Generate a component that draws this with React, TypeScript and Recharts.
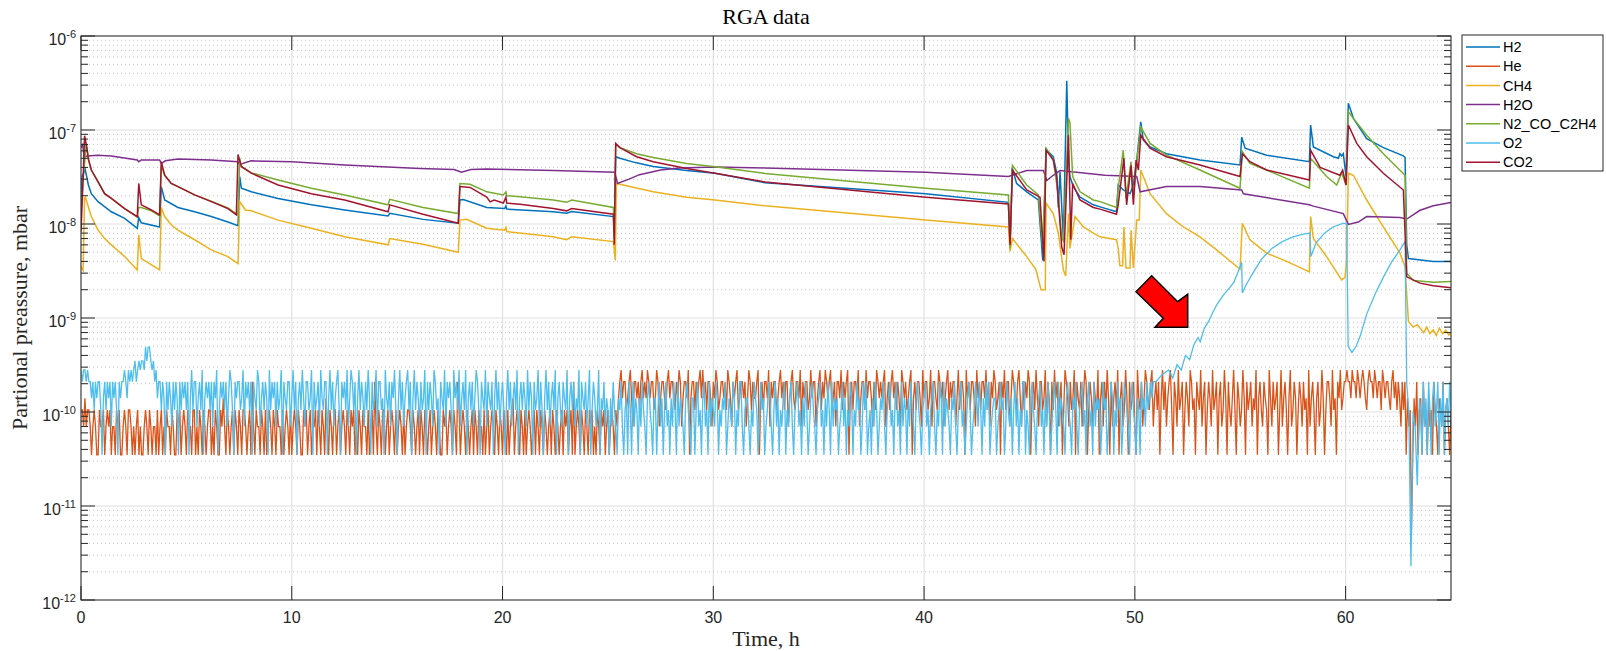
import React from 'react';
import { LineChart, Line, XAxis, YAxis, CartesianGrid, ReferenceLine } from 'recharts';

// ---------- axes ----------
const X_TICKS = [0, 10, 20, 30, 40, 50, 60];
const X_DOMAIN: [number, number] = [0, 65];
const Y_TICKS = [1e-12, 1e-11, 1e-10, 1e-9, 1e-8, 1e-7, 1e-6];
const Y_DOMAIN: [number, number] = [1e-12, 1e-6];
const MINOR_MULT = [2, 3, 4, 5, 6, 7, 8, 9];

// ---------- series (time h, partial pressure mbar) ----------
const H2: [number, number][] = [
  [0, 1.5e-8], [0.05, 3.2e-8], [0.2, 3.8e-8], [0.35, 2.6e-8], [0.49, 2.1e-8], [0.81, 1.73e-8], [1.44, 1.35e-8], [2.07, 1.15e-8],
  [2.67, 9.0e-9], [2.74, 1.17e-8], [2.86, 1.03e-8], [3.73, 9.3e-9], [3.81, 2.5e-8], [3.97, 1.8e-8], [4.6, 1.5e-8],
  [5.39, 1.35e-8], [6.18, 1.2e-8], [6.97, 1.05e-8], [7.45, 9.6e-9], [7.53, 3.2e-8], [7.61, 2.4e-8], [8.08, 2.2e-8],
  [9.35, 1.87e-8], [10.93, 1.6e-8], [12.51, 1.41e-8], [14.57, 1.22e-8], [14.65, 1.3e-8], [16.23, 1.12e-8],
  [17.9, 1.02e-8], [17.98, 1.8e-8], [18.14, 1.82e-8], [19.25, 1.5e-8], [20.1, 1.46e-8], [20.16, 1.56e-8],
  [20.2, 1.44e-8], [22.41, 1.35e-8], [23.04, 1.3e-8], [23.28, 1.36e-8], [25.26, 1.2e-8], [25.3, 8e-9],
  [25.37, 5.2e-8], [25.57, 5.0e-8], [26.3, 4.5e-8], [27.15, 4.1e-8], [28.73, 3.7e-8], [30.08, 3.47e-8], [32.45, 2.75e-8],
  [40.08, 2.1e-8], [44.0, 1.7e-8], [44.08, 6e-9], [44.19, 3.9e-8], [44.39, 2.7e-8], [44.87, 2.2e-8],
  [45.42, 1.8e-8], [45.63, 4.1e-9], [45.79, 6.2e-8], [46.13, 5.2e-8], [46.29, 3.5e-8], [46.37, 1.5e-8],
  [46.45, 3.6e-8], [46.61, 6.8e-9], [46.77, 3.35e-7], [46.85, 5e-8], [46.92, 3.2e-8], [47.08, 2.5e-8],
  [47.4, 1.93e-8], [48.03, 1.6e-8], [48.35, 1.52e-8], [49.13, 1.35e-8], [49.21, 2.6e-8], [49.45, 2.3e-8],
  [49.77, 2.1e-8], [49.93, 2.6e-8], [50.09, 4.8e-8], [50.28, 1.22e-7], [50.4, 7.8e-8], [50.72, 6.6e-8],
  [51.5, 5.6e-8], [53.09, 4.8e-8], [54.99, 4.25e-8], [55.07, 8.4e-8], [55.23, 6.4e-8], [56.25, 5.4e-8],
  [58.28, 4.6e-8], [58.34, 1.13e-7], [58.47, 6.6e-8], [59.42, 5.2e-8], [59.66, 5.0e-8], [59.73, 5.6e-8],
  [59.81, 5.3e-8], [59.89, 5.6e-8], [60.02, 3.2e-8], [60.13, 1.93e-7], [60.37, 1.33e-7], [61.0, 8.1e-8],
  [61.79, 6.5e-8], [62.74, 5.3e-8], [62.82, 5.1e-8], [62.9, 6e-9], [62.98, 4.3e-9], [64.16, 4.0e-9], [65, 4.0e-9],
];

const CH4: [number, number][] = [
  [0, 3.5e-9], [0.1, 3.2e-9], [0.17, 1.9e-8], [0.21, 1.93e-8], [0.49, 1.2e-8], [0.81, 8.6e-9], [1.12, 7e-9],
  [1.44, 6e-9], [2.07, 4.5e-9], [2.67, 3.24e-9], [2.74, 7.7e-9], [2.86, 4.3e-9], [3.0, 4.1e-9], [3.73, 3.24e-9],
  [3.81, 1.5e-8], [3.97, 1.2e-8], [4.28, 9.8e-9], [4.6, 8.6e-9], [5.39, 6.8e-9], [6.18, 5.3e-9], [6.97, 4.5e-9],
  [7.45, 3.8e-9], [7.53, 1.73e-8], [7.8, 1.41e-8], [8.08, 1.38e-8], [9.35, 1.1e-8], [10.93, 9e-9], [12.51, 7.3e-9],
  [14.57, 6e-9], [14.65, 7e-9], [16.23, 6.1e-9], [17.9, 5.0e-9], [17.98, 1.1e-8], [18.3, 1.12e-8], [19.25, 9e-9],
  [20.1, 8.6e-9], [20.16, 9.2e-9], [20.2, 8.3e-9], [22.41, 7.3e-9], [23.04, 6.8e-9], [23.28, 7.3e-9],
  [25.26, 6.5e-9], [25.35, 4.1e-9], [25.4, 2.7e-8], [27.15, 2.2e-8], [28.73, 1.93e-8], [30.08, 1.8e-8],
  [32.45, 1.56e-8], [40.08, 1.1e-8], [44.0, 9.3e-9], [44.08, 5.1e-9], [44.19, 7e-9], [44.87, 4.5e-9],
  [45.3, 3.3e-9], [45.55, 2e-9], [45.75, 2e-9], [45.79, 1.67e-8], [46.13, 1.29e-8], [46.37, 8e-9],
  [46.61, 3.24e-9], [46.72, 2.8e-9], [46.85, 1.29e-8], [46.92, 5.5e-9], [47.16, 1.2e-8], [47.56, 9.3e-9],
  [48.03, 8e-9], [48.35, 7.3e-9], [49.13, 6.8e-9], [49.21, 5.5e-9], [49.29, 3.6e-9], [49.42, 3.6e-9],
  [49.48, 9.3e-9], [49.58, 3.4e-9], [49.77, 3.4e-9], [49.82, 8.6e-9], [49.93, 3.4e-9], [50.09, 1.1e-8],
  [50.21, 1.1e-8], [50.28, 3.75e-8], [50.72, 2.1e-8], [51.5, 1.29e-8], [52.3, 9.3e-9], [53.09, 7.3e-9],
  [53.88, 5.3e-9], [54.99, 3.3e-9], [55.1, 1.02e-8], [55.46, 6.8e-9], [56.25, 4.9e-9], [57.2, 4e-9],
  [58.28, 3.1e-9], [58.34, 1.2e-8], [58.47, 7e-9], [59.1, 4.5e-9], [59.81, 2.54e-9], [59.97, 2.7e-9],
  [60.05, 4e-9], [60.13, 3.47e-8], [60.37, 3.3e-8], [61.0, 1.8e-8], [61.79, 9.3e-9], [62.58, 4.9e-9],
  [62.82, 3.5e-9], [62.98, 9.2e-10], [63.2, 8e-10], [63.4, 8.5e-10], [63.53, 7.8e-10], [63.7, 7e-10],
  [63.85, 8e-10], [64.0, 6.8e-10], [64.16, 7.5e-10], [64.3, 6.5e-10], [64.45, 7.8e-10], [64.6, 6.8e-10],
  [64.75, 7.4e-10], [64.9, 6.6e-10], [65, 7e-10],
];

const H2O: [number, number][] = [
  [0, 6.5e-8], [0.08, 7e-8], [0.15, 5.2e-8], [0.3, 5.3e-8], [0.8, 5.4e-8], [1.44, 5.3e-8], [2.67, 4.8e-8],
  [2.74, 4.6e-8], [2.86, 4.8e-8], [3.73, 4.8e-8], [3.81, 4.4e-8], [4.0, 4.7e-8], [4.6, 4.9e-8], [6.18, 4.8e-8],
  [7.45, 4.6e-8], [7.53, 4.3e-8], [8.08, 4.7e-8], [10.0, 4.6e-8], [12.51, 4.25e-8], [16.08, 3.9e-8],
  [17.7, 3.8e-8], [18.05, 3.55e-8], [18.5, 3.8e-8], [19.25, 3.85e-8], [22.41, 3.7e-8], [25.33, 3.55e-8],
  [25.45, 2.7e-8], [26.0, 3.0e-8], [26.5, 3.35e-8], [27.5, 3.75e-8], [28.4, 3.95e-8], [30.08, 4.05e-8],
  [32.45, 3.95e-8], [40.08, 3.55e-8], [44.0, 3.2e-8], [44.87, 3.7e-8], [45.66, 3.7e-8], [45.82, 2.9e-8],
  [46.13, 3.3e-8], [46.45, 3.7e-8], [48.58, 3.3e-8], [50.09, 3.2e-8], [50.25, 2.2e-8], [51.5, 2.5e-8],
  [53.09, 2.5e-8], [55.07, 2.3e-8], [55.15, 2.1e-8], [58.28, 1.6e-8], [58.47, 1.55e-8], [59.89, 1.29e-8],
  [60.13, 9.9e-9], [60.6, 1.05e-8], [61.0, 1.2e-8], [62.58, 1.17e-8], [62.9, 1.13e-8], [63.53, 1.4e-8],
  [64.16, 1.56e-8], [65, 1.69e-8],
];

const N2_CO_C2H4: [number, number][] = [
  [0, 1.3e-8], [0.08, 2.6e-8], [0.25, 7.2e-8], [0.36, 4.8e-8], [0.49, 3.75e-8], [0.81, 2.8e-8], [1.12, 2.1e-8], [1.44, 1.87e-8],
  [2.07, 1.46e-8], [2.67, 1.18e-8], [2.74, 1.5e-8], [2.86, 1.5e-8], [3.34, 1.38e-8], [3.73, 1.22e-8],
  [3.81, 4.2e-8], [3.97, 3.3e-8], [4.28, 2.7e-8], [4.6, 2.5e-8], [5.39, 2.04e-8], [6.18, 1.75e-8],
  [6.97, 1.48e-8], [7.45, 1.25e-8], [7.53, 5.0e-8], [7.61, 4.1e-8], [8.08, 3.5e-8], [9.35, 2.94e-8],
  [10.93, 2.4e-8], [12.51, 2.04e-8], [14.57, 1.6e-8], [14.65, 1.83e-8], [16.23, 1.5e-8], [17.9, 1.29e-8],
  [17.98, 2.7e-8], [18.46, 2.65e-8], [19.25, 2.2e-8], [20.04, 2.04e-8], [20.16, 2.2e-8], [20.2, 2.0e-8],
  [20.83, 1.95e-8], [22.41, 1.8e-8], [23.04, 1.7e-8], [23.28, 1.8e-8], [25.26, 1.5e-8], [25.3, 7e-9],
  [25.37, 7.1e-8], [25.57, 6.5e-8], [26.36, 5.6e-8], [27.15, 5.1e-8], [28.73, 4.4e-8], [30.08, 4.07e-8],
  [32.45, 3.45e-8], [40.08, 2.4e-8], [44.0, 2.04e-8], [44.08, 5.5e-9], [44.19, 4.2e-8], [44.87, 2.6e-8],
  [45.42, 2.04e-8], [45.63, 5.7e-9], [45.79, 6.4e-8], [46.13, 4.8e-8], [46.37, 2e-8], [46.53, 7e-9],
  [46.61, 6.6e-9], [46.85, 1.33e-7], [46.92, 1.2e-7], [47.05, 3.2e-8], [47.4, 2.2e-8], [48.03, 1.8e-8],
  [48.35, 1.73e-8], [49.13, 1.5e-8], [49.21, 2.4e-8], [49.45, 6.1e-8], [49.58, 1.87e-8], [49.82, 4.6e-8],
  [49.93, 1.87e-8], [50.09, 4.6e-8], [50.28, 1.08e-7], [50.72, 7.2e-8], [51.5, 5.4e-8], [53.09, 3.75e-8],
  [54.99, 2.4e-8], [55.1, 5.9e-8], [55.46, 4.4e-8], [56.25, 3.75e-8], [58.28, 2.4e-8], [58.34, 5.0e-8],
  [59.1, 3.2e-8], [59.58, 2.6e-8], [59.81, 3.5e-8], [60.02, 2.6e-8], [60.13, 1.57e-7], [60.37, 1.33e-7],
  [61.0, 8.8e-8], [61.79, 5.6e-8], [62.82, 3.3e-8], [62.9, 3.0e-9], [63.21, 2.5e-9], [64.16, 2.4e-9], [65, 2.45e-9],
];

const CO2: [number, number][] = [
  [0, 8.3e-9], [0.1, 3e-8], [0.17, 8.7e-8], [0.25, 7e-8], [0.36, 4.8e-8], [0.49, 3.75e-8], [0.81, 2.8e-8], [1.12, 2.1e-8],
  [1.44, 1.87e-8], [2.07, 1.46e-8], [2.67, 1.2e-8], [2.74, 2.7e-8], [2.86, 1.6e-8], [3.34, 1.41e-8],
  [3.73, 1.25e-8], [3.81, 4.6e-8], [3.97, 3.3e-8], [4.28, 2.7e-8], [4.6, 2.5e-8], [5.39, 2.04e-8],
  [6.18, 1.73e-8], [6.97, 1.46e-8], [7.37, 1.25e-8], [7.45, 5.5e-8], [7.61, 4.07e-8], [8.08, 3.47e-8],
  [9.35, 2.6e-8], [10.93, 2.1e-8], [12.51, 1.8e-8], [14.57, 1.35e-8], [14.65, 1.6e-8], [16.23, 1.27e-8],
  [17.9, 1.02e-8], [17.98, 2.5e-8], [18.46, 2.45e-8], [19.25, 1.93e-8], [19.41, 1.72e-8], [19.6, 1.8e-8],
  [20.04, 1.67e-8], [20.16, 1.93e-8], [20.2, 1.67e-8], [20.83, 1.62e-8], [22.41, 1.46e-8], [23.04, 1.38e-8],
  [23.28, 1.46e-8], [25.26, 1.27e-8], [25.3, 6e-9], [25.37, 7.2e-8], [25.57, 6.5e-8], [26.36, 5.2e-8],
  [27.15, 4.6e-8], [28.73, 3.9e-8], [30.08, 3.47e-8], [32.45, 2.8e-8], [40.08, 1.93e-8], [44.0, 1.63e-8],
  [44.08, 6e-9], [44.19, 3.75e-8], [44.87, 2.3e-8], [45.5, 1.93e-8], [45.69, 4e-9], [45.79, 6.1e-8],
  [46.13, 4.8e-8], [46.29, 3.2e-8], [46.53, 5.7e-9], [46.64, 4.7e-9], [46.85, 8.8e-8], [46.96, 6.8e-9],
  [47.05, 2.7e-8], [47.4, 1.8e-8], [48.03, 1.5e-8], [48.35, 1.44e-8], [49.13, 1.27e-8], [49.21, 1.6e-8],
  [49.48, 5e-8], [49.61, 1.6e-8], [49.82, 4.2e-8], [49.93, 1.6e-8], [50.06, 4.8e-8], [50.17, 3.75e-8],
  [50.28, 8.8e-8], [50.72, 6.4e-8], [51.5, 5.2e-8], [53.09, 4.25e-8], [54.99, 3.2e-8], [55.1, 5.6e-8],
  [55.46, 4.6e-8], [56.25, 3.75e-8], [58.28, 2.94e-8], [58.34, 6.1e-8], [58.79, 4.0e-8], [59.73, 3.3e-8],
  [59.86, 3.75e-8], [60.02, 2.6e-8], [60.13, 1.13e-7], [60.53, 7.2e-8], [61.0, 5.2e-8], [61.79, 3.47e-8],
  [62.74, 2.3e-8], [62.9, 2.74e-9], [63.53, 2.35e-9], [64.16, 2.2e-9], [65, 2.1e-9],
];

// noisy channels: quantised level codes sampled every NOISE_STEP hours
const NOISE_STEP = 0.0625;
const NOISE_LEVELS = [3.5e-11, 7e-11, 1.05e-10, 1.4e-10, 2.1e-10, 2.8e-10, 3.5e-10, 4.9e-10, 5.2e-12];

const HE_CODES = [
  2,2,1,3,1,2,2,1,0,1, 2,1,0,0,2,1,1,2,0,1, 2,1,2,0,1,1,0,2,1,2, 0,0,1,2,1,0,2,2,1,0,
  1,0,1,2,0,1,0,0,1,2, 1,0,2,1,0,1,1,0,2,0, 1,2,0,1,0,2,1,1,0,2, 1,0,0,2,1,2,0,1,2,1,
  0,2,1,1,0,2,2,0,1,0, 2,1,0,2,1,0,1,2,2,0, 1,0,2,1,0,0,2,1,3,1, 0,2,1,0,1,2,0,2,1,0,
  2,1,0,2,2,1,0,1,2,0, 4,1,0,2,1,1,0,2,1,0, 2,0,1,2,1,0,2,1,0,2, 1,1,0,2,0,1,2,1,0,2,
  0,1,2,1,0,2,1,0,0,2, 1,2,0,1,2,0,1,1,2,0, 2,1,0,2,1,0,3,1,0,2, 1,0,2,2,0,1,2,0,1,2,
  1,0,2,1,0,2,1,2,0,1, 0,2,1,0,2,1,1,0,2,0, 1,2,0,4,1,0,2,1,0,2, 2,0,1,2,0,1,2,1,0,2,
  0,1,2,1,0,2,0,1,2,2, 1,0,2,1,0,1,2,0,2,1, 0,2,1,0,1,2,0,1,2,1, 0,2,1,0,0,2,1,2,0,1,
  2,1,0,2,1,0,4,2,0,1, 2,1,0,2,1,0,1,2,0,2, 1,0,2,1,1,0,2,0,1,2, 0,1,2,1,0,2,1,0,2,1,
  0,2,1,0,2,0,1,2,3,0, 1,2,1,0,2,1,0,2,0,1, 2,1,0,1,2,0,2,1,0,2, 1,0,2,1,0,1,2,0,2,1,
  0,2,1,0,1,2,0,2,1,2, 0,1,2,0,4,0,1,2,1,0, 2,1,0,2,1,0,2,1,2,0, 1,0,2,1,0,2,1,2,0,1,
  2,0,1,2,1,0,2,1,
  3,4,5,3,4,4,2,3,4,5, 3,1,4,4,3,4,2,4,5,3, 4,3,5,4,3,4,4,2,3,5, 4,1,3,4,4,3,2,4,5,3,
  4,4,3,2,4,3,5,4,1,3, 4,4,3,5,0,3,4,4,2,4, 3,4,5,3,5,3,4,2,4,4, 3,1,4,3,5,4,2,3,4,4,
  3,4,2,5,4,3,1,4,3,4, 5,2,3,4,4,3,4,1,3,5, 4,2,4,3,3,4,5,0,3,4, 2,4,4,3,5,1,4,3,4,4,
  2,3,4,5,3,4,2,4,4,1, 3,4,5,3,2,4,4,3,5,1, 4,3,4,4,2,3,5,3,4,4, 1,3,4,5,2,4,3,5,4,3,
  4,5,2,3,4,1,4,4,3,5, 2,4,3,4,5,0,3,4,2,4, 4,3,5,1,3,4,4,2,5,3, 4,4,3,1,4,2,5,4,3,4,
  3,4,5,1,3,4,2,4,5,3, 4,2,4,3,1,5,4,3,4,2, 3,4,5,0,3,4,2,4,4,3, 1,5,3,4,4,2,3,5,1,4,
  4,3,2,5,4,3,4,1,3,4, 5,2,4,3,4,4,1,3,5,2, 4,4,3,0,5,3,4,2,4,4, 3,1,5,3,4,2,4,4,3,5,
  2,4,1,4,3,5,4,2,3,4, 0,4,3,5,2,4,4,1,3,5, 4,3,2,4,5,3,1,4,2,4, 3,5,4,0,3,4,2,5,3,1,
  4,4,2,3,5,1,4,3,0,4, 2,5,3,4,1,3,4,0,2,5, 4,3,1,4,2,3,5,0,4,3, 2,4,1,3,5,4,0,2,4,3,
  1,4,3,2,5,0,3,4,1,4, 2,5,3,0,4,1,3,4,2,5, 0,3,4,1,2,5,3,0,4,2, 3,4,1,0,5,3,2,4,1,3,
  5,4,3,2,4,5,1,3,4,2, 4,0,3,5,2,4,1,3,4,5, 2,0,4,3,1,5,2,3,4,0, 2,4,3,1,5,4,2,3,0,4,
  3,2,5,1,3,4,0,2,4,3, 1,5,2,3,4,0,3,4,1,2, 5,3,0,4,2,1,3,5,2,0, 4,3,1,2,5,3,0,4,2,3,
  4,1,3,2,5,0,3,4,2,1, 4,3,2,0,5,3,1,4,2,3, 4,0,2,5,1,3,4,2,0,3, 5,1,2,4,3,0,2,4,3,1,
  4,2,3,0,5,1,3,4,2,0, 3,4,1,2,5,3,0,2,4,4, 3,1,5,2,3,0,4,3,5,2, 3,4,
  4,5,4,4,3,5,4,4,3,5, 4,3,4,5,4,3,2,4,5,4, 4,3,5,4,3,4,4,2,5,4, 3,4,4,3,2,4,5,3,4,2, 4,3,1,4,
  2,4,0,3,1,2,8,0,3,1, 4,0,2,3,0,4,1,2,0,3, 1,2,0,4,2,1,0,3,2,1, 4,0,2,3,1,0,2,
];

const O2_HEAD_CODES = [
  5,4,5,5,4,5,4,4, 3,4,2,4,3,4,4,2, 0,3,4,2,4,3,4,1, 4,3,4,2,0,4,3,4, 4,5,4,3,5,4,5,4,
  5,6,4,5,6,5,6,6, 5,7,6,7,7,6,5,6, 4,5,3,4,4,2,4,3, 0,4,2,4,3,1,4,2, 4,3,0,4,2,4,3,4,
  2,4,0,3,5,2,4,4,1,3, 4,2,5,0,3,4,3,4,2,4, 1,4,3,5,0,2,4,3,4,2, 4,1,3,5,4,2,0,4,3,4,
  4,2,3,5,1,4,3,4,2,4, 0,4,3,2,5,4,1,3,4,2, 4,3,0,5,2,4,3,4,1,4, 2,3,5,0,4,3,2,4,4,1,
  3,5,2,4,0,3,4,2,5,3, 1,4,4,2,3,5,0,4,2,3, 4,1,5,3,2,4,4,0,3,5, 2,4,1,3,4,5,2,0,4,3,
  4,2,5,1,3,5,4,2,4,0, 3,5,2,4,3,1,4,2,5,3, 0,4,2,3,5,1,4,4,2,3, 0,5,3,2,4,1,4,3,5,2,
  0,3,5,2,4,1,3,4,5,2, 4,0,3,5,2,4,3,1,4,2, 3,5,0,4,2,4,3,1,5,4, 2,3,0,4,3,2,5,1,4,3,
  4,2,0,5,3,4,2,5,1,3, 4,2,5,0,3,4,2,4,1,3, 5,4,2,0,4,3,2,5,1,4, 3,2,4,0,3,5,2,4,1,3,
  4,2,0,3,5,2,4,1,3,4, 2,5,0,3,4,2,4,3,1,5, 2,4,3,0,4,2,3,5,1,4, 2,0,3,5,2,4,1,3,4,2,
  5,0,3,4,2,1,4,3,2,5, 0,3,4,2,4,1,3,2,5,0, 4,3,2,4,1,3,5,0,2,4, 3,1,2,5,0,3,2,4,1,3,
  2,0,3,1,4,2,1,0,3,2, 4,1,0,2,3,0,4,2,0,4, 1,3,2,0,3,1,4,2,1,0, 3,4,2,1,0,3,3,0,2,4,
  1,3,0,2,4,1,2,0,3,1, 4,2,0,4,1,3,2,1,0,3, 4,2,1,0,3,3,0,2,4,1, 2,0,3,4,1,2,0,4,1,3,
  2,1,4,3,0,2,1,3,2,4, 0,1,3,2,1,4,3,0,2,1, 4,4,1,0,2,3,3,1,0,2, 1,4,3,2,0,1,4,2,3,0,
  1,2,4,3,1,0,2,4,1,3, 0,2,1,3,4,0,2,1,3,4, 1,0,2,3,4,1,2,0,3,1, 4,2,0,1,3,4,2,1,0,2,
  3,4,1,2,0,3,1,4,2,0, 4,1,3,2,3,0,1,2,4,1, 3,0,2,1,4,3,0,2,1,4, 2,3,0,1,4,2,4,0,1,2,
  0,3,1,4,2,0,1,3,2,4, 1,0,2,3,4,1,2,0,3,4, 1,2,0,4,1,3,2,0,3,1, 4,2,1,0,3,4,2,1,0,2,
  3,4,1,2,0,2,3,4,1,0, 2,1,4,3,0,4,1,3,2,1, 0,3,2,4,1,0,2,3,4,1, 2,0,1,3,4,2,0,1,2,4,
  3,1,4,2,0,3,1,4,2,4, 0,1,2,3,3,0,1,2,4,2, 3,0,1,4,2,1,3,0,2,4, 1,3,0,2,1,4,4,0,2,1,
  0,3,4,2,1,0,2,3,4,1, 2,0,3,1,4,2,0,1,3,4, 2,0,4,1,3,2,1,0,3,4, 2,1,0,3,2,4,1,0,2,3,
  4,1,2,0,3,4,1,2,0,4, 1,3,2,3,0,1,4,2,3,0, 1,2,4,3,0,2,1,4,2,3, 0,1,4,3,2,1,0,3,4,2,
  1,0,3,2,0,4,2,3,1,4, 2,3,4,3,4,4,
];

const O2_RISE: [number, number][] = [
  [51.0, 2.1e-10], [51.3, 2.5e-10], [51.6, 2.8e-10], [51.8, 2.3e-10], [52.0, 3.2e-10], [52.2, 2.8e-10],
  [52.4, 4.0e-10], [52.6, 3.6e-10], [52.8, 5.2e-10], [53.0, 6.2e-10], [53.1, 5.6e-10], [53.3, 7.8e-10],
  [53.5, 9.2e-10], [53.7, 1.15e-9], [53.9, 1.4e-9], [54.2, 1.75e-9], [54.5, 2.1e-9], [54.7, 2.4e-9],
  [54.9, 3.1e-9], [55.07, 3.9e-9], [55.1, 1.85e-9], [55.3, 2.3e-9], [55.6, 3.0e-9], [56.0, 4.2e-9],
  [56.5, 5.5e-9], [57.0, 6.5e-9], [57.5, 7.3e-9], [58.0, 7.8e-9], [58.3, 8.0e-9], [58.35, 4.5e-9],
  [58.6, 6.3e-9], [59.0, 8.0e-9], [59.4, 9.3e-9], [59.9, 1.02e-8], [60.05, 1.0e-8], [60.12, 5.0e-10],
  [60.3, 4.3e-10], [60.5, 5.0e-10], [60.7, 6.5e-10], [61.0, 1.1e-9], [61.4, 1.8e-9], [61.8, 2.74e-9],
  [62.2, 4.0e-9], [62.58, 5.3e-9], [62.82, 6.5e-9], [62.9, 2.0e-10], [63.0, 1.0e-10], [63.1, 2.3e-12],
  [63.2, 1.0e-10], [63.3, 7e-11], [63.4, 1.66e-11], [63.5, 1.4e-10],
];
const O2_TAIL_CODES = [2, 0, 4, 1, 3, 0, 4, 2, 0, 3, 4, 1, 2, 4, 0, 3, 1, 4, 0, 2, 3, 1, 4, 2];

// ---------- build data ----------
type Pt = { t: number; v: number };
const pairs = (a: [number, number][]): Pt[] => a.map(([t, v]) => ({ t, v }));
const fromCodes = (codes: number[], t0: number): Pt[] =>
  codes.map((c, i) => ({ t: t0 + i * NOISE_STEP, v: NOISE_LEVELS[c] }));

const O2_LAST_RISE = O2_RISE[O2_RISE.length - 1][0];
const O2_DATA: Pt[] = [
  ...fromCodes(O2_HEAD_CODES, 0),
  ...pairs(O2_RISE),
  ...fromCodes(O2_TAIL_CODES, O2_LAST_RISE + NOISE_STEP),
];

const SERIES = [
  { name: 'H2', color: '#0072BD', data: pairs(H2), w: 1.5 },
  { name: 'He', color: '#D95319', data: fromCodes(HE_CODES, 0), w: 1.3 },
  { name: 'CH4', color: '#EDB120', data: pairs(CH4), w: 1.5 },
  { name: 'H2O', color: '#7E2F8E', data: pairs(H2O), w: 1.5 },
  { name: 'N2_CO_C2H4', color: '#77AC30', data: pairs(N2_CO_C2H4), w: 1.5 },
  { name: 'O2', color: '#4DBEEE', data: O2_DATA, w: 1.3 },
  { name: 'CO2', color: '#A2142F', data: pairs(CO2), w: 1.5 },
];

// ---------- layout ----------
const W = 1606;
const H = 651;
const PL = 81;
const PT = 36;
const PW = 1370;
const PH = 564;
const AXIS = '#262626';
const SANS = '"Liberation Sans", Arial, Helvetica, sans-serif';
const SERIF = '"Liberation Serif", "Times New Roman", serif';

const yPix = (v: number) =>
  PT + (PH * (Math.log10(Y_DOMAIN[1]) - Math.log10(v))) / (Math.log10(Y_DOMAIN[1]) - Math.log10(Y_DOMAIN[0]));
const xPix = (t: number) => PL + (PW * (t - X_DOMAIN[0])) / (X_DOMAIN[1] - X_DOMAIN[0]);

const MINOR_VALUES: number[] = [];
Y_TICKS.slice(0, -1).forEach((d) => MINOR_MULT.forEach((m) => MINOR_VALUES.push(m * d)));

const YTick = (props: any) => {
  const { x, y, payload } = props;
  const exp = Math.round(Math.log10(payload.value));
  return (
    <text x={x} y={y + 9} textAnchor="end" fill={AXIS} fontFamily={SANS}>
      <tspan fontSize={16}>10</tspan>
      <tspan fontSize={11} dy={-7}>{String(exp)}</tspan>
    </text>
  );
};

const XTick = (props: any) => {
  const { x, y, payload } = props;
  return (
    <text x={x} y={y + 23} textAnchor="middle" fill={AXIS} fontFamily={SANS} fontSize={16}>
      {payload.value}
    </text>
  );
};

const Overlay = () => {
  const majorLen = 14;
  const minorLen = 7;
  const legendX = 1462;
  const legendY = 35;
  const rowH = 19.2;
  return (
    <svg width={W} height={H} style={{ position: 'absolute', left: 0, top: 0, pointerEvents: 'none' }}>
      {Y_TICKS.map((v) => (
        <g key={'yt' + v}>
          <line x1={PL} x2={PL + majorLen} y1={yPix(v)} y2={yPix(v)} stroke={AXIS} strokeWidth={1} />
          <line x1={PL + PW} x2={PL + PW - majorLen} y1={yPix(v)} y2={yPix(v)} stroke={AXIS} strokeWidth={1} />
        </g>
      ))}
      {MINOR_VALUES.map((v) => (
        <g key={'ym' + v}>
          <line x1={PL} x2={PL + minorLen} y1={yPix(v)} y2={yPix(v)} stroke={AXIS} strokeWidth={1} />
          <line x1={PL + PW} x2={PL + PW - minorLen} y1={yPix(v)} y2={yPix(v)} stroke={AXIS} strokeWidth={1} />
        </g>
      ))}
      {X_TICKS.map((t) => (
        <g key={'xt' + t}>
          <line x1={xPix(t)} x2={xPix(t)} y1={PT + PH} y2={PT + PH - majorLen} stroke={AXIS} strokeWidth={1} />
          <line x1={xPix(t)} x2={xPix(t)} y1={PT} y2={PT + majorLen} stroke={AXIS} strokeWidth={1} />
        </g>
      ))}
      <rect x={PL} y={PT} width={PW} height={PH} fill="none" stroke={AXIS} strokeWidth={1} />

      <text x={PL + PW / 2} y={24} textAnchor="middle" fontFamily={SERIF} fontSize={22} fill="#000">
        RGA data
      </text>
      <text x={PL + PW / 2} y={646} textAnchor="middle" fontFamily={SERIF} fontSize={22} fill="#262626">
        Time, h
      </text>
      <text
        x={0}
        y={0}
        transform={`translate(27, ${PT + PH / 2}) rotate(-90)`}
        textAnchor="middle"
        fontFamily={SERIF}
        fontSize={22}
        fill="#262626"
      >
        Partional preassure, mbar
      </text>

      <polygon
        points="1136,291.7 1151.7,275.7 1177.7,301.7 1187.7,294.3 1187.7,327.3 1155,327.3 1163.3,318.3"
        fill="#FF0000"
        stroke="#000"
        strokeWidth={1.5}
        strokeLinejoin="miter"
      />

      <rect x={legendX} y={legendY} width={141} height={136} fill="#fff" stroke={AXIS} strokeWidth={1} />
      {SERIES.map((s, i) => {
        const cy = legendY + 12 + i * rowH;
        return (
          <g key={'lg' + s.name}>
            <line x1={legendX + 4} x2={legendX + 38} y1={cy} y2={cy} stroke={s.color} strokeWidth={1.5} />
            <text x={legendX + 41} y={cy + 5.2} fontFamily={SANS} fontSize={14.5} fill="#000">
              {s.name}
            </text>
          </g>
        );
      })}
    </svg>
  );
};

export default function App() {
  return (
    <div style={{ position: 'relative', width: W, height: H, background: '#fff' }}>
      <style>{`body{margin:0;background:#fff;}`}</style>
      <LineChart width={W} height={H} margin={{ top: PT, right: W - PL - PW, bottom: 0, left: 0 }}>
        <CartesianGrid stroke="#e2e2e2" strokeWidth={1.2} />
        {MINOR_VALUES.map((v) => (
          <ReferenceLine key={'mg' + v} y={v} stroke="#c4c4c4" strokeWidth={1} strokeDasharray="1 3" />
        ))}
        <XAxis
          type="number"
          dataKey="t"
          domain={X_DOMAIN}
          ticks={X_TICKS}
          interval={0}
          allowDataOverflow
          axisLine={false}
          tickLine={false}
          tickSize={0}
          tickMargin={0}
          height={H - PT - PH}
          tick={<XTick />}
        />
        <YAxis
          type="number"
          dataKey="v"
          scale="log"
          domain={Y_DOMAIN}
          ticks={Y_TICKS}
          interval={0}
          allowDataOverflow
          axisLine={false}
          tickLine={false}
          tickSize={0}
          tickMargin={5}
          width={PL}
          tick={<YTick />}
        />
        {SERIES.map((s) => (
          <Line
            key={s.name}
            data={s.data}
            dataKey="v"
            name={s.name}
            type="linear"
            stroke={s.color}
            strokeWidth={s.w}
            dot={false}
            activeDot={false}
            isAnimationActive={false}
          />
        ))}
      </LineChart>
      <Overlay />
    </div>
  );
}
